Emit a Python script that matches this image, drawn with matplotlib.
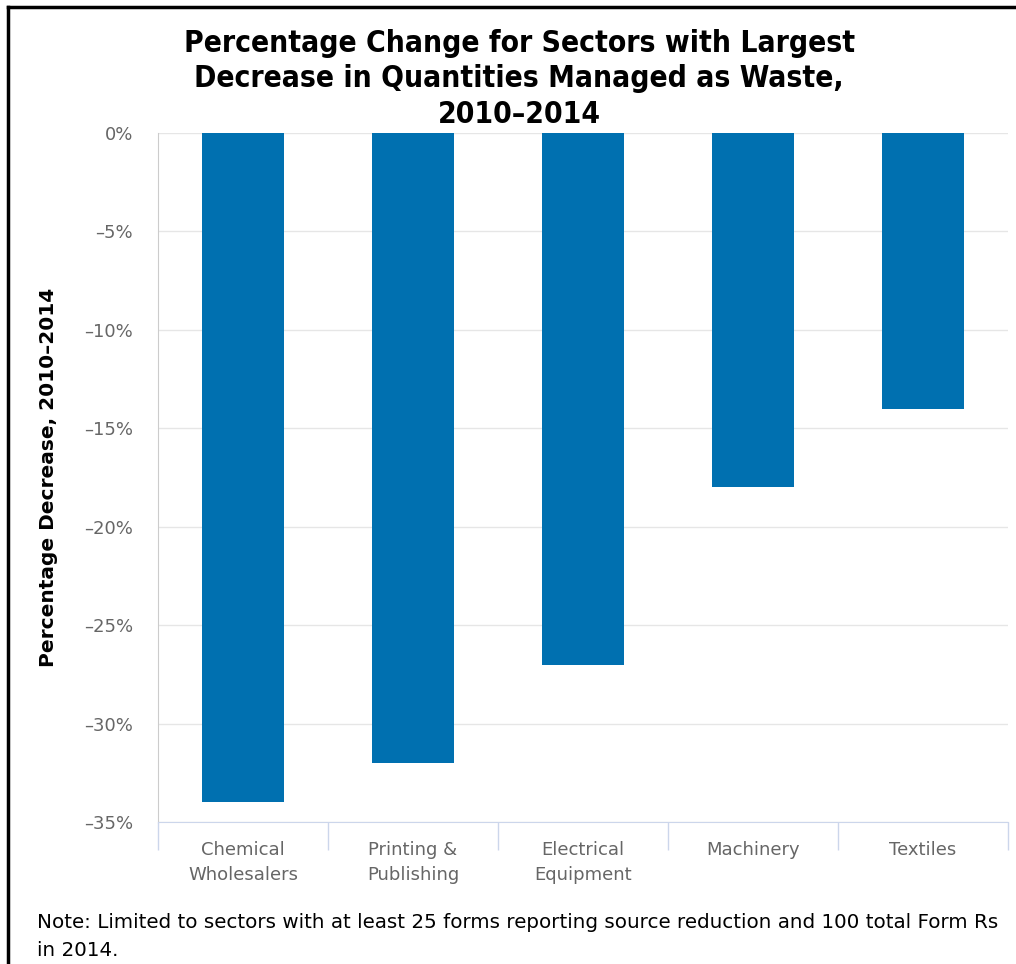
import numpy as np
import matplotlib
matplotlib.use('Agg')
import matplotlib.pyplot as plt
from matplotlib.lines import Line2D

# Datos
sectores = ['Chemical\nWholesalers', 'Printing &\nPublishing', 'Electrical\nEquipment',
            'Machinery', 'Textiles']
cambio_pct = [-34, -32, -27, -18, -14]
ticks_y = [0, -5, -10, -15, -20, -25, -30, -35]

azul = '#0070b0'
gris_texto = '#666666'

fig = plt.figure(figsize=(10.16, 9.64), dpi=100)
ax = fig.add_axes([0.1555, 0.1473, 0.8365, 0.7147])

x = np.arange(len(sectores))
ax.bar(x, cambio_pct, width=0.48, color=azul, zorder=3)

ax.set_xlim(-0.5, len(sectores) - 0.5)
ax.set_ylim(-35, 0)
ax.set_yticks(ticks_y)
ax.set_yticklabels([f'{v}%'.replace('-', '\u2013') for v in ticks_y])
ax.yaxis.grid(True, color='#e6e6e6', linewidth=1, zorder=0)
ax.tick_params(axis='y', length=0, pad=18, labelsize=13, labelcolor=gris_texto)

# Marcas del eje x entre categorías
ax.set_xticks(np.arange(-0.5, len(sectores)), minor=False)
ax.set_xticklabels([''] * (len(sectores) + 1))
ax.tick_params(axis='x', length=20, color='#ccd6eb', width=1)
for i, s in enumerate(sectores):
    ax.text(i, -0.027, s, transform=ax.get_xaxis_transform(), ha='center', va='top',
            fontsize=13, color=gris_texto, linespacing=1.55)

for lado in ['top', 'right']:
    ax.spines[lado].set_visible(False)
ax.spines['bottom'].set_color('#ccd6eb')
ax.spines['left'].set_color('#cccccc')
ax.spines['left'].set_bounds(-35, 0)
ax.axhline(0, color='#cccccc', linewidth=1.2, zorder=1)

ax.set_ylabel('Percentage Decrease, 2010\u20132014', fontsize=14.5, fontweight='bold')
ax.yaxis.set_label_coords(-0.118, 0.5)

fig.text(0.511, 0.970, 'Percentage Change for Sectors with Largest\n'
         'Decrease in Quantities Managed as Waste,\n2010\u20132014',
         ha='center', va='top', fontsize=21.5, fontweight='bold', fontstretch='condensed',
         linespacing=1.28)

fig.text(0.036, 0.053, 'Note: Limited to sectors with at least 25 forms reporting source '
         'reduction and 100 total Form Rs\nin 2014.', ha='left', va='top', fontsize=14.3,
         linespacing=1.6)

# Marco superior e izquierdo
fig.add_artist(Line2D([0.0079, 1.0], [0.9927, 0.9927], color='black', linewidth=2.5,
                      transform=fig.transFigure))
fig.add_artist(Line2D([0.0079, 0.0079], [0.0, 0.9927], color='black', linewidth=2.5,
                      transform=fig.transFigure))

plt.savefig('out.png', dpi=100)
